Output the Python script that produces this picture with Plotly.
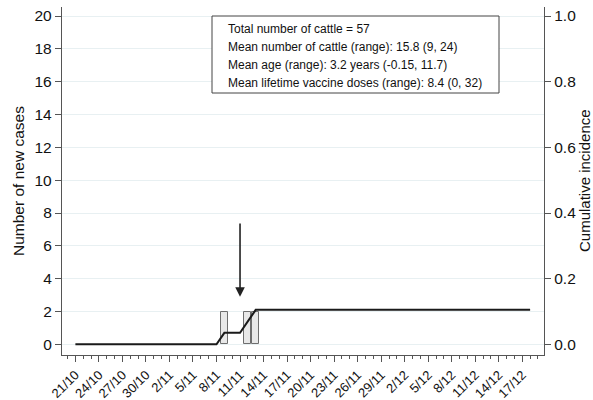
import plotly.graph_objects as go

# ---- data ----
case_dates = ["2016-11-09", "2016-11-12", "2016-11-13"]
new_cases = [2, 2, 2]

cum_dates = ["2016-10-21", "2016-11-08", "2016-11-09", "2016-11-11", "2016-11-13", "2016-12-18"]
cum_incidence = [0.0, 0.0, 0.035, 0.035, 0.105, 0.105]

tick_dates = ["2016-10-21", "2016-10-24", "2016-10-27", "2016-10-30", "2016-11-02", "2016-11-05",
              "2016-11-08", "2016-11-11", "2016-11-14", "2016-11-17", "2016-11-20", "2016-11-23",
              "2016-11-26", "2016-11-29", "2016-12-02", "2016-12-05", "2016-12-08", "2016-12-11",
              "2016-12-14", "2016-12-17"]
tick_labels = ["21/10", "24/10", "27/10", "30/10", "2/11", "5/11", "8/11", "11/11", "14/11", "17/11",
               "20/11", "23/11", "26/11", "29/11", "2/12", "5/12", "8/12", "11/12", "14/12", "17/12"]

info_lines = [
    "Total number of cattle = 57",
    "Mean number of cattle (range): 15.8 (9, 24)",
    "Mean age (range): 3.2 years (-0.15, 11.7)",
    "Mean lifetime vaccine doses (range): 8.4 (0, 32)",
]
arrow_date = "2016-11-11"
arrow_from, arrow_to = 7.45, 2.9

FONT = "Liberation Sans, Arial, sans-serif"
AX = "#555555"
DAY = 86400000

fig = go.Figure()
fig.add_trace(go.Bar(
    x=case_dates, y=new_cases, width=0.92 * DAY,
    marker=dict(color="#e8e8e8", line=dict(color="#6e6e6e", width=1)),
    showlegend=False, yaxis="y",
))
fig.add_trace(go.Scatter(
    x=cum_dates, y=cum_incidence, mode="lines",
    line=dict(color="#1a1a1a", width=2), showlegend=False, yaxis="y2",
))

fig.update_layout(
    width=593, height=400,
    margin=dict(l=62, r=49, t=7, b=45),
    paper_bgcolor="white", plot_bgcolor="white",
    font=dict(family=FONT, color="#111111"),
    bargap=0,
    xaxis=dict(
        type="date", automargin=False,
        range=["2016-10-19 07:00", "2016-12-19 18:30"],
        tickvals=tick_dates, ticktext=tick_labels, tickangle=-45,
        tickfont=dict(size=13, color="#111111"),
        ticks="outside", ticklen=6, tickcolor=AX, tickwidth=1,
        minor=dict(dtick=DAY, tick0="2016-10-21", ticks="outside", ticklen=3,
                   tickcolor=AX, tickwidth=1, showgrid=False),
        showline=True, linecolor=AX, linewidth=1.3,
        showgrid=False, zeroline=False,
    ),
    yaxis=dict(
        automargin=False,
        range=[-0.65, 20.55],
        tickvals=[0, 2, 4, 6, 8, 10, 12, 14, 16, 18, 20],
        tickfont=dict(size=15.5),
        ticks="outside", ticklen=6, tickcolor=AX,
        showline=True, linecolor=AX, linewidth=1.3,
        showgrid=True, gridcolor="#e8f0f2", gridwidth=1.2,
        zeroline=False,
    ),
    yaxis2=dict(
        automargin=False,
        overlaying="y", side="right",
        range=[-0.0325, 1.0275],
        tickvals=[0, 0.2, 0.4, 0.6, 0.8, 1.0], tickformat=".1f",
        tickfont=dict(size=15.5),
        ticks="outside", ticklen=6, tickcolor=AX,
        showline=True, linecolor=AX, linewidth=1.3,
        showgrid=False, zeroline=False,
    ),
)

# axis titles
fig.add_annotation(xref="paper", yref="paper", x=(18 - 62) / 482, y=0.5,
                   text="Number of new cases", textangle=-90, showarrow=False,
                   font=dict(size=15.5), xanchor="center", yanchor="middle")
fig.add_annotation(xref="paper", yref="paper", x=(584 - 62) / 482, y=0.5,
                   text="Cumulative incidence", textangle=-90, showarrow=False,
                   font=dict(size=15), xanchor="center", yanchor="middle")

# info box
fig.add_shape(type="rect", xref="paper", yref="paper",
              x0=(212 - 62) / 482, x1=(499 - 62) / 482,
              y0=(355 - 93) / 348, y1=(355 - 16) / 348,
              line=dict(color="#444444", width=1), fillcolor="white", layer="above")
for txt, py in zip(info_lines, [28.5, 46.5, 65, 83]):
    fig.add_annotation(xref="paper", yref="paper", x=(226 - 62) / 482, y=(355 - py) / 348,
                       text=txt, showarrow=False, xanchor="left", yanchor="middle",
                       font=dict(size=12))

# arrow
fig.add_annotation(x=arrow_date, y=arrow_to, ax=arrow_date, ay=arrow_from,
                   xref="x", yref="y", axref="x", ayref="y",
                   showarrow=True, arrowhead=2, arrowsize=1.2, arrowwidth=1.6,
                   arrowcolor="#222222", text="")

fig.write_html("out.html", config={"displayModeBar": False},
               post_script="document.body.style.margin='0px';")
